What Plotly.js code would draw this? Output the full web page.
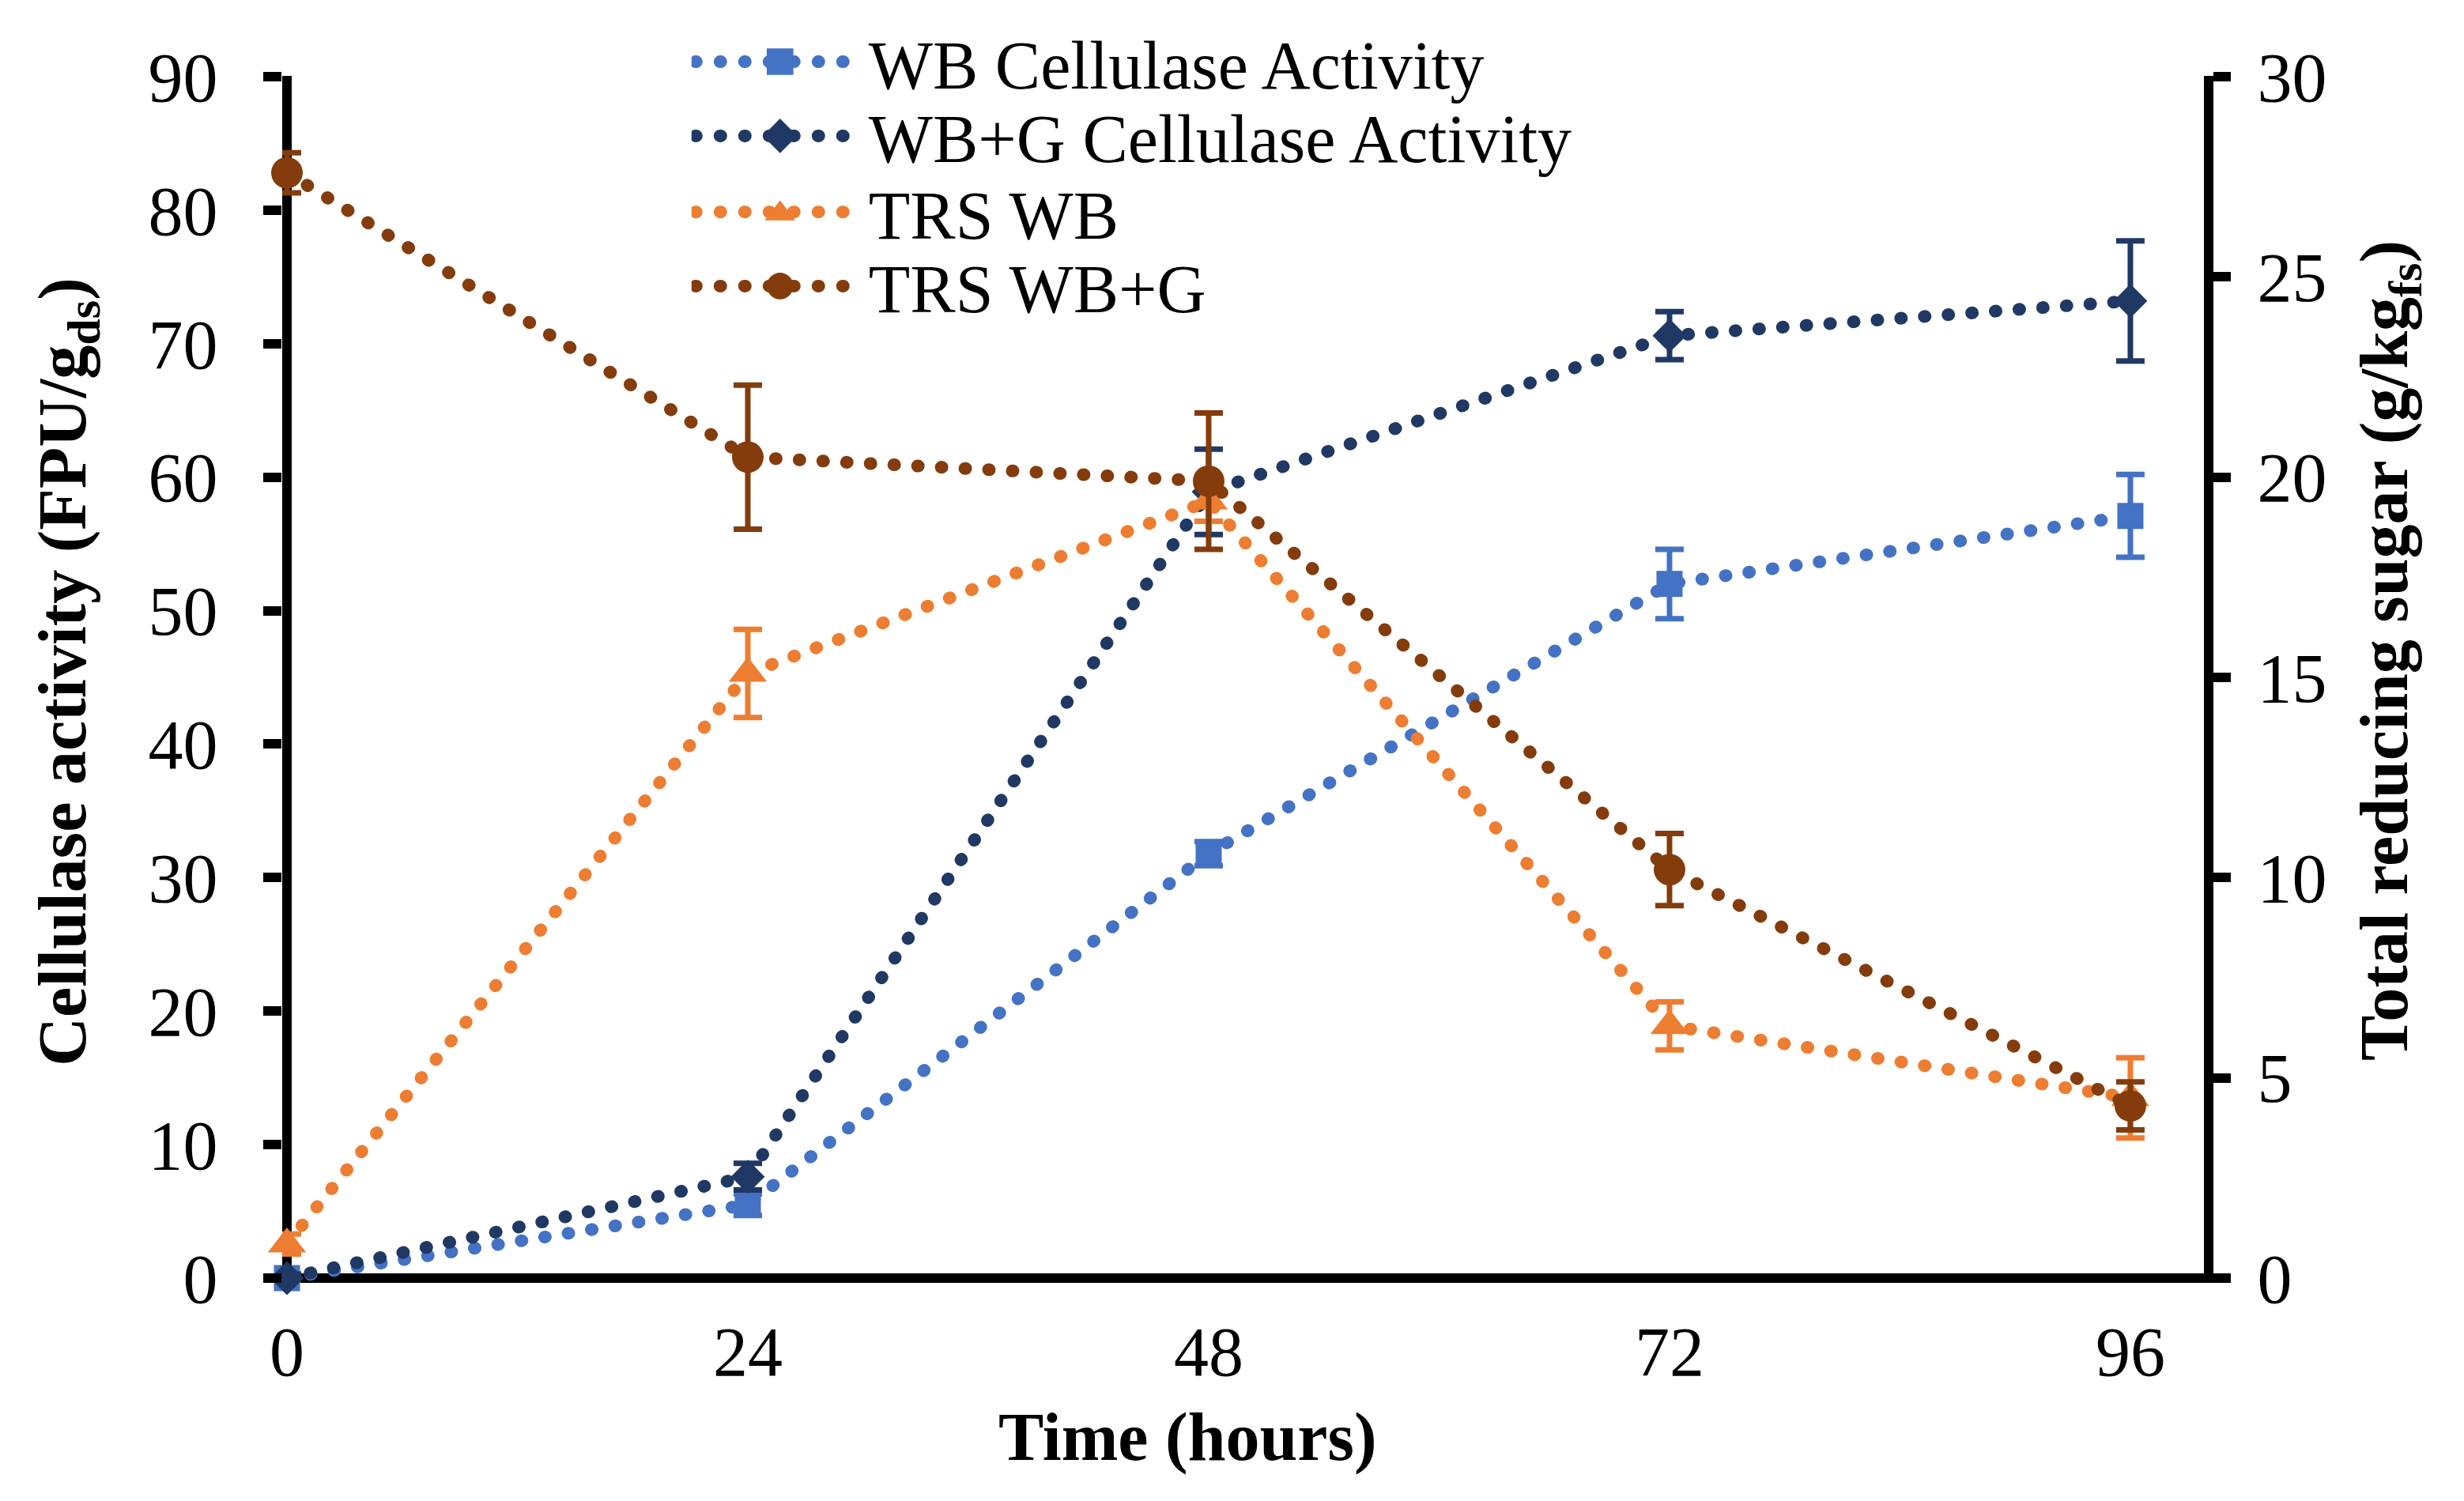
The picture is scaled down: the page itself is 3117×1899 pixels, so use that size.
<!DOCTYPE html>
<html>
<head>
<meta charset="utf-8">
<script src="https://cdn.plot.ly/plotly-3.0.1.min.js"></script>
<style>
  html, body { margin: 0; padding: 0; background: #fff; }
  #chart { width: 3117px; height: 1899px; }
  /* round caps turn the short dashes into dots */
  .js-line { stroke-linecap: round; }
  /* legend symbols: full-width dotted line and bigger marker, as in the source figure */
  .legendlines .js-line { stroke-width: 16px !important; stroke-dasharray: 1px, 30px !important; }
  .legendpoints { transform-box: fill-box; transform-origin: center; transform: scale(2.1); }
</style>
</head>
<body>
<div id="chart"></div>
<script>
var hours = [0, 24, 48, 72, 96];

var wb_activity = [0, 5.5, 31.8, 52.0, 57.1];
var wb_activity_err = [0.3, 0.8, 0.9, 2.6, 3.1];

var wbg_activity = [0, 7.6, 58.9, 70.6, 73.2];
var wbg_activity_err = [0.3, 1.0, 3.2, 1.8, 4.5];

var trs_wb = [0.85, 15.1, 19.4, 6.3, 4.5];
var trs_wb_err = [0.25, 1.1, 0.5, 0.6, 1.0];

var trs_wbg = [27.6, 20.5, 19.9, 10.2, 4.3];
var trs_wbg_err = [0.5, 1.8, 1.7, 0.9, 0.6];

var FONT = '"Liberation Serif", "Times New Roman", serif';

function series(name, y, err, color, symbol, size, axis, legend) {
  return {
    x: hours,
    y: y,
    name: name,
    yaxis: axis,
    legend: legend,
    type: 'scatter',
    mode: 'lines+markers',
    cliponaxis: false,
    line: {color: color, width: 16, dash: '1px,29px'},
    marker: {color: color, symbol: symbol, size: size, line: {width: 0}},
    error_y: {type: 'data', array: err, visible: true, color: color, thickness: 7, width: 18}
  };
}

var traces = [
  series('WB Cellulase Activity', wb_activity, wb_activity_err, '#4472C4', 'square', 33, 'y', 'legend'),
  series('WB+G Cellulase Activity', wbg_activity, wbg_activity_err, '#203864', 'diamond', 33, 'y', 'legend2'),
  series('TRS WB', trs_wb, trs_wb_err, '#ED7D31', 'triangle-up', 42, 'y2', 'legend3'),
  series('TRS WB+G', trs_wbg, trs_wbg_err, '#843C0C', 'circle', 40, 'y2', 'legend4')
];

// one legend per row so the rows keep the tight spacing of the source
function legendRow(y) {
  return {
    x: 0.213, y: y, xanchor: 'left', yanchor: 'middle',
    bgcolor: 'rgba(0,0,0,0)',
    itemwidth: 214,
    font: {family: FONT, size: 86, color: '#000'}
  };
}

var layout = {
  width: 3117,
  height: 1899,
  margin: {l: 357, r: 329, t: 96, b: 276, pad: 0},
  paper_bgcolor: '#fff',
  plot_bgcolor: '#fff',
  font: {family: FONT, size: 88, color: '#000'},
  showlegend: true,
  legend: legendRow(1.0117),
  legend2: legendRow(0.9502),
  legend3: legendRow(0.8872),
  legend4: legendRow(0.8258),
  xaxis: {
    range: [-0.247, 99.83],
    tickvals: hours,
    ticktext: ['0', '24', '48', '72', '96'],
    ticks: '',
    showgrid: false,
    showline: false,
    zeroline: true,
    zerolinecolor: '#000',
    zerolinewidth: 12,
    ticklabelstandoff: 28,
    tickfont: {family: FONT, size: 88}
  },
  yaxis: {
    range: [-0.355, 90.06],
    tickvals: [0, 10, 20, 30, 40, 50, 60, 70, 80, 90],
    ticks: 'outside',
    ticklen: 23,
    tickwidth: 12,
    tickcolor: '#000',
    showgrid: false,
    showline: false,
    zeroline: true,
    zerolinecolor: '#000',
    zerolinewidth: 12,
    ticklabelstandoff: 40,
    tickfont: {family: FONT, size: 88}
  },
  yaxis2: {
    overlaying: 'y',
    side: 'right',
    range: [-0.1183, 30.02],
    tickvals: [0, 5, 10, 15, 20, 25, 30],
    ticks: 'outside',
    ticklen: 22,
    tickwidth: 12,
    tickcolor: '#000',
    showgrid: false,
    showline: true,
    linecolor: '#000',
    linewidth: 12,
    zeroline: false,
    ticklabelstandoff: 16,
    tickfont: {family: FONT, size: 88}
  },
  annotations: [
    {
      text: '<b>Time (hours)</b>', xref: 'paper', yref: 'paper',
      x: 0.471, y: -0.1277, xanchor: 'center', yanchor: 'middle',
      showarrow: false, font: {family: FONT, size: 86, color: '#000'}
    },
    {
      text: '<b>Cellulase activity (FPU/g<sub>ds</sub>)</b>', xref: 'paper', yref: 'paper',
      x: -0.1119, y: 0.5062, xanchor: 'center', yanchor: 'middle', textangle: -90,
      showarrow: false, font: {family: FONT, size: 86, color: '#000'}
    },
    {
      text: '<b>Total reducing sugar (g/kg<sub>fs</sub>)</b>', xref: 'paper', yref: 'paper',
      x: 1.0963, y: 0.5239, xanchor: 'center', yanchor: 'middle', textangle: -90,
      showarrow: false, font: {family: FONT, size: 86, color: '#000'}
    }
  ]
};

Plotly.newPlot('chart', traces, layout, {displaylogo: false, displayModeBar: false, staticPlot: true});
</script>
</body>
</html>
